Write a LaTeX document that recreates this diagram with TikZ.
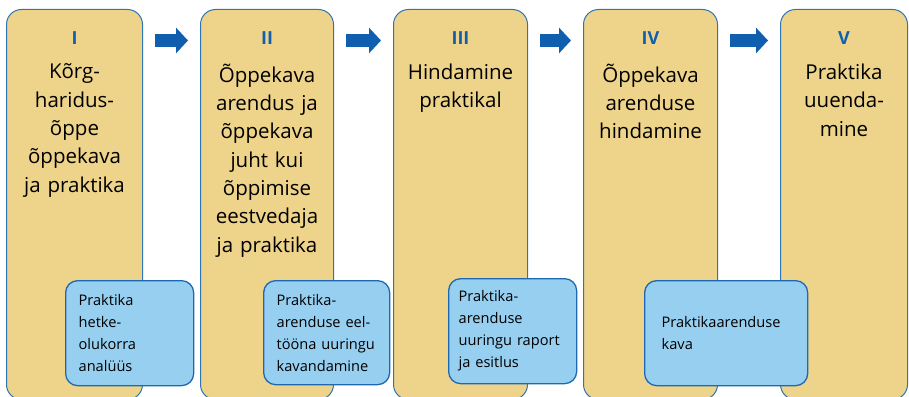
\documentclass[tikz,border=0pt]{standalone}
\usepackage{fontspec}
\setmainfont{Open Sans}
\usetikzlibrary{arrows.meta}
\usetikzlibrary{positioning}
\definecolor{colfill}{RGB}{238,212,138}
\definecolor{colline}{RGB}{46,117,182}
\definecolor{boxfill}{RGB}{151,207,240}
\definecolor{boxline}{RGB}{30,104,178}
\definecolor{numblue}{RGB}{16,94,174}

\begin{document}
\begin{tikzpicture}[x=1pt,y=-1pt]
        \tikzset{phase/.style = {draw=colline, fill=colfill, line width=1pt, rounded corners=15pt, minimum height=390pt, anchor=north west, inner sep=0pt}}
        \tikzset{numeral/.style = {text=numblue, font=\fontsize{18}{20}\selectfont\bfseries, inner sep=0pt}}
        \tikzset{title/.style = {align=center, text width=132pt, font=\fontsize{20.5}{28.3}\selectfont, anchor=north, inner sep=0pt}}
        \tikzset{task/.style = {draw=boxline, fill=boxfill, line width=1.3pt, rounded corners=12pt, anchor=north west, align=left, inner xsep=13pt, inner ysep=0pt, font=\fontsize{14.6}{22}\selectfont}}
        \tikzset{flow/.style = {draw=numblue, line width=13pt, -{Triangle[length=12pt,width=25pt]}, shorten <=12pt, shorten >=12pt}}

        \useasboundingbox (0,0) rectangle (909,396);

        \node[phase, minimum width=136pt] (p1) at (6,9) {};
        \node[phase, minimum width=133pt] (p2) at (200,9) {};
        \node[phase, minimum width=134pt] (p3) at (393,9) {};
        \node[phase, minimum width=134pt] (p4) at (583,9) {};
        \node[phase, minimum width=127pt] (p5) at (780,9) {};

        \node[numeral] (n1) at ([yshift=-29pt]p1.north) {I};
        \node[numeral] (n2) at ([yshift=-29pt]p2.north) {II};
        \node[numeral] (n3) at ([yshift=-29pt]p3.north) {III};
        \node[numeral] (n4) at ([yshift=-29pt]p4.north) {IV};
        \node[numeral] (n5) at ([yshift=-29pt]p5.north) {V};

        \node[title, below=19pt of n1] (t1) {Kõrg-\\haridus-\\õppe\\õppekava\\ja praktika};
        \node[title, below=19pt of n2] (t2) {Õppekava\\arendus ja\\õppekava\\juht kui\\õppimise\\eestvedaja\\ja praktika};
        \node[title, below=19pt of n3] (t3) {Hindamine\\praktikal};
        \node[title, below=19pt of n4] (t4) {Õppekava\\arenduse\\hindamine};
        \node[title, below=19pt of n5] (t5) {Praktika\\uuenda-\\mine};

        \draw[flow] ([yshift=-31.5pt]p1.north east) -- ([yshift=-31.5pt]p2.north west);
        \draw[flow] ([yshift=-31.5pt]p2.north east) -- ([yshift=-31.5pt]p3.north west);
        \draw[flow] ([yshift=-31.5pt]p3.north east) -- ([yshift=-31.5pt]p4.north west);
        \draw[flow] ([yshift=-31.5pt]p4.north east) -- ([yshift=-31.5pt]p5.north west);

        \node[task, text width=102pt, minimum height=105pt] (a1) at (65,280) {Praktika\\hetke-\\olukorra\\analüüs};
        \node[task, text width=100pt, minimum height=104pt] (a2) at (263,280) {Praktika-\\arenduse eel-\\tööna uuringu\\kavandamine};
        \node[task, text width=108pt, minimum height=105pt, inner xsep=10pt] (a3) at (448,278) {Praktika-\\arenduse\\uuringu raport\\ja esitlus};
        \node[task, text width=129pt, minimum height=105pt, inner xsep=17pt] (a4) at (644,280) {Praktikaarenduse\\kava};
\end{tikzpicture}
\end{document}
